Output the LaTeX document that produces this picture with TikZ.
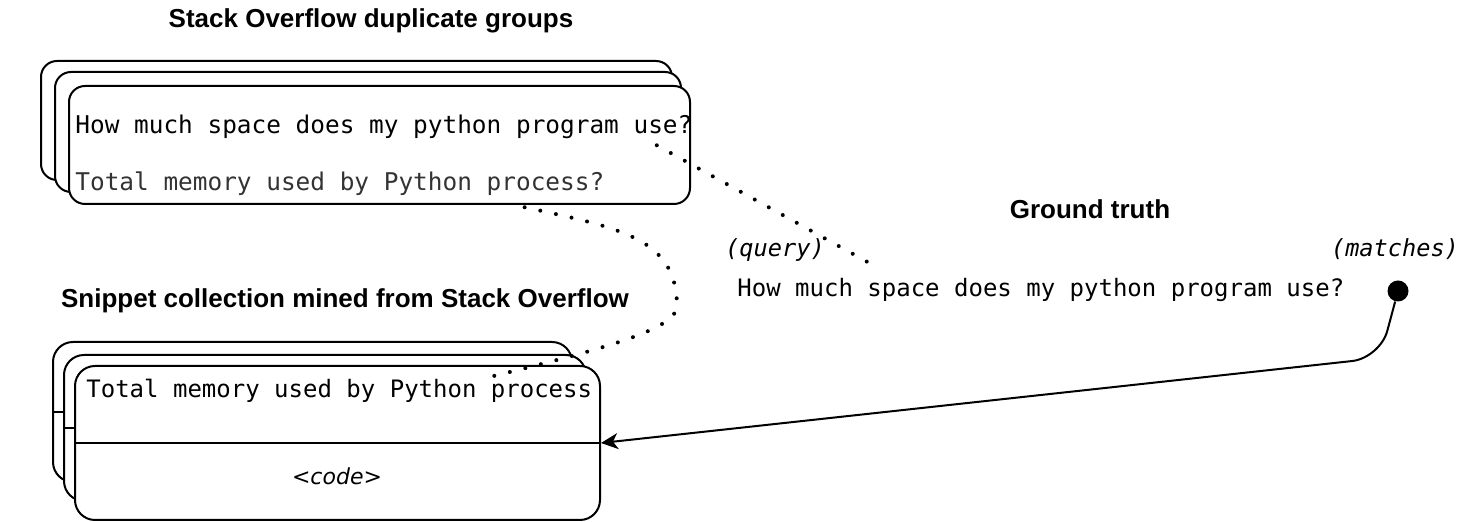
\documentclass[tikz,border=0pt]{standalone}
\usepackage{fontspec}
\setmainfont{Liberation Sans}
\setmonofont{DejaVu Sans Mono}
\newfontfamily\dvsans{DejaVu Sans}
\usetikzlibrary{arrows.meta,positioning,calc}

\begin{document}
\begin{tikzpicture}[
    x=0.5pt,y=-0.5pt,
    card/.style={rectangle,draw,line width=1pt,rounded corners=8pt,fill=white,inner sep=0pt},
    heading/.style={font=\fontsize{13}{15}\selectfont\bfseries,inner sep=0pt},
    mono/.style={font=\fontsize{12}{14}\selectfont\ttfamily,inner sep=0pt,anchor=west},
    tag/.style={font=\fontsize{11.8}{13}\selectfont\ttfamily\itshape,inner sep=0pt},
    dotline/.style={line width=2pt,line cap=round,dash pattern=on 0pt off 8pt},
    arrow/.style={line width=1pt,-{Stealth[length=8.5pt,width=8pt,inset=2.5pt]},rounded corners=14pt}
]
    \useasboundingbox (0,0) rectangle (1464,522);

    % duplicate groups
    \node[heading] (duphead) at (371,21) {Stack Overflow duplicate groups};
    \node[card,minimum width=315.5pt,minimum height=59.5pt] (dupB) at (356.5,120.5) {};
    \node[card,minimum width=313pt,minimum height=60pt] (dupM) at (368,132) {};
    \node[card,minimum width=310.5pt,minimum height=59pt] (dupF) at (379.5,145) {};
    \node[mono,font=\fontsize{12.2}{14}\selectfont\ttfamily] (dupq) at (75,127) {How much space does my python program use?};
    \node[mono,font=\fontsize{12.2}{14}\selectfont\ttfamily,text=black!80] (dupp) at (75,184) {Total memory used by Python process?};

    % snippet collection
    \node[heading] (sniphead) at (345,301) {Snippet collection mined from Stack Overflow};
    \node[card,rounded corners=10pt,minimum width=259.5pt,minimum height=70pt] (snipB) at (312.5,412) {};
    \draw[line width=1pt] (snipB.west) -- (snipB.east);
    \node[card,rounded corners=10pt,minimum width=261pt,minimum height=73pt] (snipM) at (325,428) {};
    \draw[line width=1pt] (snipM.west) -- (snipM.east);
    \node[card,rounded corners=10pt,minimum width=262.5pt,minimum height=77pt] (snipF) at (337.5,443) {};
    \draw[line width=1pt] (snipF.west) -- (snipF.east);
    \node[mono] (snipq) at (86,391) {Total memory used by Python process};
    \node[font=\fontsize{11}{13}\selectfont\dvsans\itshape,inner sep=0pt] (code) at (337,476) {<code>};

    % ground truth
    \node[heading] (gthead) at (1090,209) {Ground truth};
    \node[tag] (query) at (775,250) {(query)};
    \node[tag] (matches) at (1395,249) {(matches)};
    \node[mono] (gtq) at (737,290) {How much space does my python program use?};
    \node[circle,fill,inner sep=0pt,minimum size=10.5pt] (dot) at (1398,291) {};

    \draw[dotline] ($(dupq.south east)+(-36,6)$) -- ($(gtq.north west)+(143,-9)$);
    \draw[dotline] ($(dupp.south east)+(-80,11)$) .. controls (620,228) and (676,238) .. (677,305)
        .. controls (678,327) and (620,345) .. ($(snipq.north west)+(408,-3)$);
    \draw[arrow] (dot) -- ($(dot)+(-18,67)$) -- (snipF.east);
\end{tikzpicture}
\end{document}
